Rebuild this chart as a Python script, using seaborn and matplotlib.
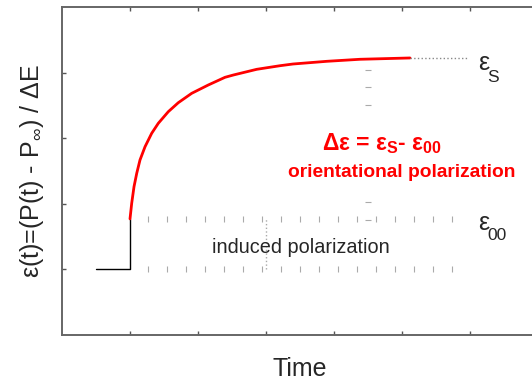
import numpy as np
import pandas as pd
import matplotlib
matplotlib.use("Agg")
import matplotlib.pyplot as plt
import seaborn as sns

# relaxation curve (time, eps)
t_curve = [1.0, 1.025, 1.059, 1.099, 1.147, 1.221, 1.319, 1.416, 1.563, 1.71,
           1.907, 2.151, 2.397, 2.519, 2.863, 3.206, 3.397, 3.893, 4.382, 5.118]
eps_curve = [1.77, 2.008, 2.261, 2.465, 2.668, 2.87, 3.075, 3.227, 3.404, 3.541,
             3.684, 3.811, 3.928, 3.963, 4.05, 4.105, 4.131, 4.172, 4.203, 4.223]

# step before the field is on
t_step = [0.5, 1.0, 1.0]
eps_step = [1.0, 1.0, 1.77]

eps_inf_level = 1.0
eps_00_level = 1.77
eps_s_level = 4.223
t_end_curve = 5.118
t_end_guide = 5.97

# dashed guide marks
guide_t = [1.265, 1.544, 1.824, 2.103, 2.382, 2.662, 2.941, 3.221, 3.5, 3.779,
           4.059, 4.338, 4.618, 4.897, 5.176, 5.456, 5.735]
guide_eps = [4.04, 3.78, 3.51, 2.03, 1.75]
guide_t_v = 4.5
induced_t = 3.0

sns.set_style("ticks")
plt.rcParams['font.family'] = ['Liberation Sans', 'DejaVu Sans']

fig = plt.figure(figsize=(5.32, 3.82), dpi=100)
ax = fig.add_axes([62 / 532, 47 / 382, 476 / 532, 328 / 382])

df_step = pd.DataFrame({"t": t_step, "eps": eps_step})
sns.lineplot(data=df_step, x="t", y="eps", sort=False, estimator=None,
             color="black", lw=1.0, ax=ax)
df_curve = pd.DataFrame({"t": t_curve, "eps": eps_curve})
sns.lineplot(data=df_curve, x="t", y="eps", sort=False, estimator=None,
             color="red", lw=2.0, ax=ax)

# guides
ax.plot([t_end_curve, t_end_guide], [eps_s_level, eps_s_level], ls=":", color="#888888", lw=1.0)
ax.plot([induced_t, induced_t], [eps_inf_level, eps_00_level], ls=":", color="#aaaaaa", lw=1.0)
for lev in [eps_00_level, eps_inf_level]:
    ax.plot(guide_t, [lev] * len(guide_t), ls="none", marker="|", ms=4, mew=0.8, color="#aaaaaa")
ax.plot([guide_t_v] * len(guide_eps), guide_eps, ls="none", marker="_", ms=4, mew=0.8, color="#aaaaaa")

# level labels
ax.text(6.12, 4.04, "ε", fontsize=18, ha="left", va="baseline")
ax.text(6.26, 3.857, "S", fontsize=12.5, ha="left", va="baseline")
ax.text(6.12, 1.60, "ε", fontsize=18, ha="left", va="baseline")
ax.text(6.26, 1.448, "00", fontsize=12.5, ha="left", va="baseline")

ax.text(4.71, 2.82, "Δε = ε$_\\mathregular{S}$- ε$_\\mathregular{00}$", fontsize=16.5,
        fontweight="bold", color="red", ha="center", va="baseline")
ax.text(5.0, 2.41, "orientational polarization", fontsize=13.8,
        fontweight="bold", color="red", ha="center", va="baseline")
ax.text(3.51, 1.25, "induced polarization", fontsize=14.3, ha="center", va="baseline")

ax.set_xlim(0, 7)
ax.set_ylim(0, 5)
ax.set_xticks([1, 2, 3, 4, 5, 6])
ax.set_yticks([1, 2, 3, 4])
ax.set_xticklabels([])
ax.set_yticklabels([])
ax.tick_params(axis="x", direction="in", top=True, bottom=True, length=3, width=1, color="#555555")
ax.tick_params(axis="y", direction="in", left=True, right=False, length=3, width=1, color="#555555")
for sp in ax.spines.values():
    sp.set_color("#666666")
    sp.set_linewidth(1.4)

ax.set_xlabel("Time", fontsize=18, labelpad=12)
ax.set_ylabel("ε(t)=(P(t) - P$_\\mathregular{∞}$) / ΔE", fontsize=18, labelpad=8)

fig.savefig("out.png", dpi=100)
